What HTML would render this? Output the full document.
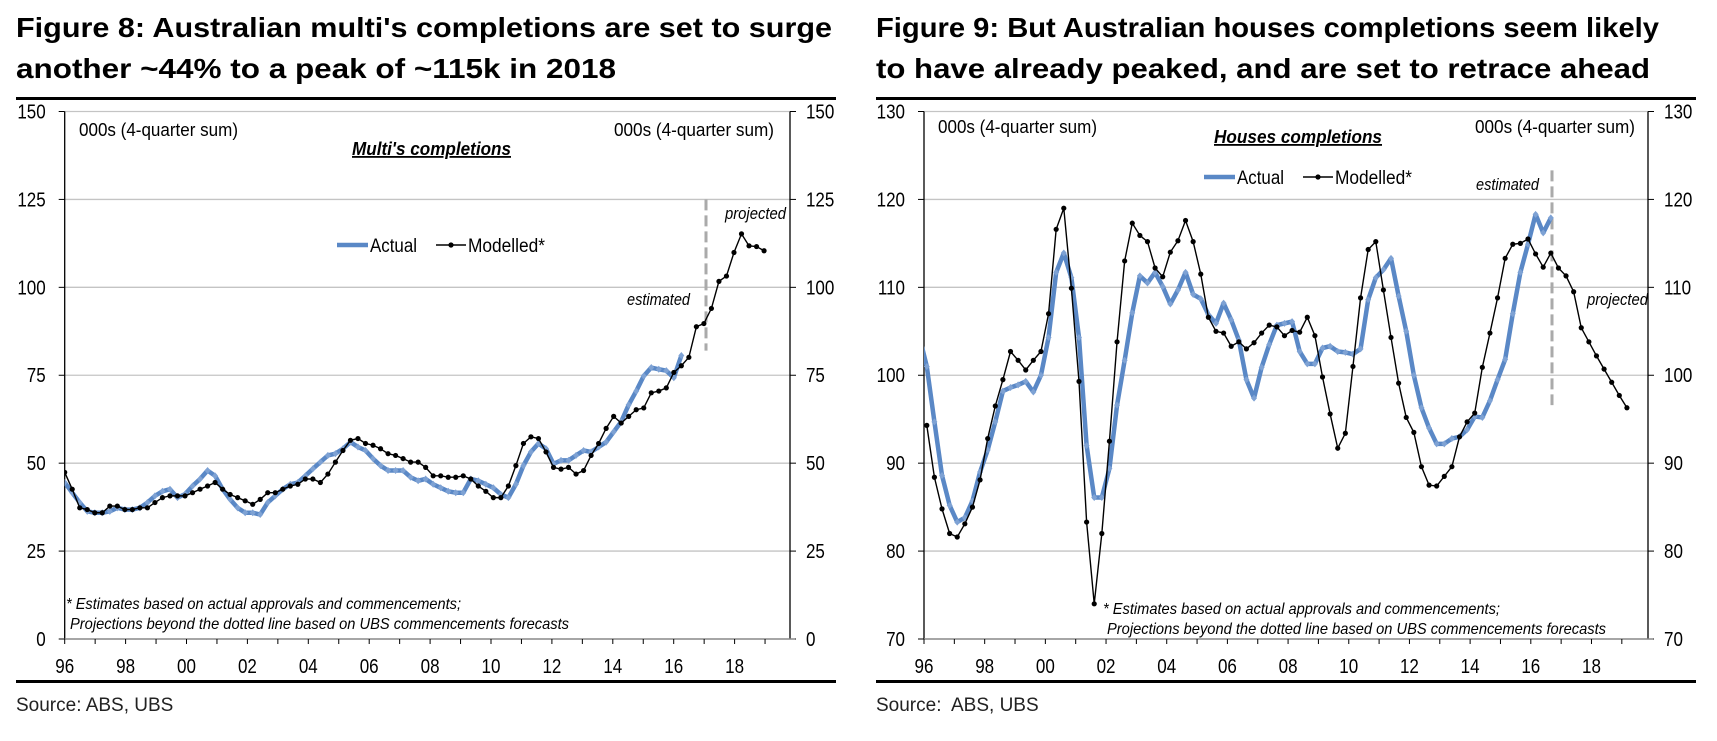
<!DOCTYPE html>
<html><head><meta charset="utf-8"><style>
html,body{margin:0;padding:0;background:#fff;}
svg{display:block;font-family:"Liberation Sans",Arial,sans-serif;}
</style></head><body>
<svg id="c" width="1717" height="741" viewBox="0 0 1717 741" xmlns="http://www.w3.org/2000/svg">
<g font-weight="bold" font-size="28" fill="#000">
<text x="16" y="37" textLength="816" lengthAdjust="spacingAndGlyphs">Figure 8: Australian multi's completions are set to surge</text>
<text x="16" y="78" textLength="600" lengthAdjust="spacingAndGlyphs">another ~44% to a peak of ~115k in 2018</text>
</g>
<g font-weight="bold" font-size="28" fill="#000">
<text x="876" y="37" textLength="783" lengthAdjust="spacingAndGlyphs">Figure 9: But Australian houses completions seem likely</text>
<text x="876" y="78" textLength="774" lengthAdjust="spacingAndGlyphs">to have already peaked, and are set to retrace ahead</text>
</g>
<rect x="16" y="97" width="820" height="3" fill="#000"/>
<rect x="876" y="97" width="820" height="3" fill="#000"/>
<rect x="16" y="680" width="820" height="3" fill="#000"/>
<rect x="876" y="680" width="820" height="3" fill="#000"/>
<text x="16" y="711" font-size="19" fill="#222">Source: ABS, UBS</text>
<text x="876" y="711" font-size="19" fill="#222" xml:space="preserve">Source:  ABS, UBS</text>
</svg>
<script>
// ---- Figure 8: multi's completions (000s) ----
const multiActual = [44.5,41.6,38.8,36.3,35.9,35.9,36.3,37.3,36.8,36.8,37.3,38.8,40.7,42.0,42.6,40.2,41.2,43.5,45.5,47.9,46.4,42.6,39.7,37.3,35.9,35.9,35.4,38.8,40.7,42.6,44.0,44.5,46.4,48.4,50.3,52.2,52.7,54.1,56.0,54.6,53.6,51.3,49.3,47.9,47.9,47.9,46.0,45.0,45.5,44.0,43.0,42.0,41.6,41.6,45.5,45.0,44.0,43.0,41.1,40.2,44.0,49.3,53.2,55.6,54.1,49.8,50.8,50.8,52.2,53.6,53.2,54.6,56.0,58.9,61.8,66.6,70.5,74.8,77.2,76.7,76.3,74.3,80.6];
const multiModelled = [47.4,42.6,37.3,36.8,35.9,35.9,37.8,37.8,36.8,36.8,37.3,37.3,38.8,40.2,40.7,40.7,40.7,41.6,42.6,43.5,44.5,42.6,41.1,40.2,39.3,38.3,39.7,41.6,41.6,42.6,43.5,44.0,45.5,45.5,44.5,46.9,50.3,53.6,56.5,57.0,55.6,55.1,54.1,52.7,52.2,51.3,50.3,50.3,48.8,46.4,46.4,46.0,46.0,46.4,45.5,43.5,42.0,40.2,40.2,43.5,49.3,55.6,57.5,57.0,53.2,48.8,48.3,48.8,46.9,47.9,52.2,55.6,59.9,63.3,61.4,63.3,65.2,65.7,70.0,70.5,71.4,75.8,77.7,80.1,88.8,89.7,94.0,101.7,103.2,109.9,115.2,111.8,111.6,110.4];
const multiTicks = [0,25,50,75,100,125,150];
// ---- Figure 9: houses completions (000s) ----
const housesActual = [104.5,101,94.7,88.6,85.2,83.3,83.8,85.7,89,91.5,94.7,98.2,98.6,98.9,99.3,98.1,100,104.3,111.7,113.9,111.1,104.3,92,86.1,86.1,89.4,96.6,101.7,107.1,111.3,110.5,111.7,110.1,108.1,109.7,111.7,109.2,108.7,106.9,105.9,108.2,106.3,104,99.5,97.4,100.9,103.5,105.7,105.9,106.1,102.7,101.3,101.3,103.1,103.3,102.7,102.6,102.4,103,108.6,111.1,112,113.3,109,105,100,96.3,94,92.2,92.2,92.8,93,93.8,95.3,95.2,97.1,99.5,101.8,107,111.7,114.9,118.3,116.2,117.9];
const housesModelled = [94.3,88.4,84.8,82.0,81.6,83.1,85.0,88.1,92.8,96.5,99.5,102.7,101.7,100.6,101.7,102.7,107.0,116.6,119.0,109.9,99.3,83.3,74.0,82.0,92.5,103.8,113.0,117.3,115.9,115.2,112.2,111.2,114.0,115.3,117.6,115.2,111.5,106.6,105.0,104.8,103.3,103.8,103.0,103.7,104.8,105.7,105.5,104.5,105.1,104.9,106.6,104.5,99.8,95.6,91.7,93.4,101.0,108.8,114.3,115.2,109.7,104.3,99.1,95.2,93.5,89.6,87.5,87.4,88.5,89.6,93.0,94.7,95.7,100.9,104.8,108.8,113.3,114.9,115.0,115.5,113.8,112.3,113.9,112.2,111.3,109.5,105.4,103.8,102.2,100.7,99.2,97.7,96.3];
const housesTicks = [70,80,90,100,110,120,130];
const yearLabels = ["96","98","00","02","04","06","08","10","12","14","16","18"];

const NS="http://www.w3.org/2000/svg";
const svg=document.getElementById('c');
function el(tag,attrs,parent){const e=document.createElementNS(NS,tag);for(const k in attrs)e.setAttribute(k,attrs[k]);(parent||svg).appendChild(e);return e;}

function chart(cfg){
  const g=el('g',{});
  
  
  const L=cfg.left,R=cfg.right,T=111.5,B=639;
  const y=v=>B-(v-cfg.min)/(cfg.max-cfg.min)*(B-T);
  const xq=(i,off)=>L+cfg.x0+(i+off)*cfg.step;
  const xy=yr=>L+(yr-1996)*cfg.yearPx;
  const clipId='clip'+cfg.name;
  const cp=el('clipPath',{id:clipId},g);el('rect',{x:L,y:T-5,width:R-L,height:B-T+10},cp);
  // gridlines + labels
  cfg.ticks.forEach(t=>{
    const yy=y(t);
    if(t!==cfg.min){const gl=el('line',{x1:L,x2:R,y1:yy,y2:yy,stroke:'#c4c4c4','stroke-width':1.3},g);
      
      }
    el('line',{x1:L-6,x2:L,y1:yy,y2:yy,stroke:'#000','stroke-width':1},g);
    el('line',{x1:R,x2:R+6,y1:yy,y2:yy,stroke:'#000','stroke-width':1},g);
    const lt=el('text',{x:L-19,y:yy+7,'font-size':20,'text-anchor':'end',fill:'#000',transform:`translate(${L-19},0) scale(0.85,1) translate(${-(L-19)},0)`},g);
    lt.textContent=t;
    
    
    const rt=el('text',{x:R+16,y:yy+7,'font-size':20,fill:'#000',transform:`translate(${R+16},0) scale(0.85,1) translate(${-(R+16)},0)`},g);
    rt.textContent=t;
    
    
  });
  // axes
  const ax=el('line',{x1:L,x2:L,y1:T,y2:B,stroke:'#000','stroke-width':1.3},g);
  
  const ax2=el('line',{x1:R,x2:R,y1:T,y2:B,stroke:'#000','stroke-width':1.3},g);
  
  const xa=el('line',{x1:L,x2:R+5,y1:B,y2:B,stroke:'#888','stroke-width':1.5},g);
  
  for(let yr=1996;yr<=2019;yr++){el('line',{x1:xy(yr),x2:xy(yr),y1:B,y2:B+5,stroke:'#000','stroke-width':1},g);}
  yearLabels.forEach((lab,k)=>{
    const xx=xy(1996+2*k);
    const t=el('text',{x:xx,y:673,'font-size':20,'text-anchor':'middle',fill:'#000',transform:`translate(${xx},0) scale(0.85,1) translate(${-xx},0)`},g);
    t.textContent=lab;
    
    
  });
  // dashed divider
  const dv=el('line',{x1:cfg.dash[0],x2:cfg.dash[0],y1:y(cfg.dash[1]),y2:y(cfg.dash[2]),stroke:'#aaa','stroke-width':3,'stroke-dasharray':'11,5'},g);
  
  // series
  const sg=el('g',{'clip-path':`url(#${clipId})`},g);
  const pa=cfg.actual.map((v,i)=>[xq(i,cfg.aOff),y(v)]);
  const ap=el('polyline',{points:pa.map(p=>p.join(',')).join(' '),fill:'none',stroke:'#5a88c6','stroke-width':4.5,'stroke-linejoin':'round'},sg);
  
  pa.forEach(p=>{const d=el('path',{d:`M${p[0]},${p[1]-3.5}l3,3.5l-3,3.5l-3,-3.5z`,fill:'#7ea2d4'},sg);
    });
  const pm=cfg.modelled.map((v,i)=>[xq(i,0),y(v)]);
  const mp=el('polyline',{points:pm.map(p=>p.join(',')).join(' '),fill:'none',stroke:'#000','stroke-width':1.4},sg);
  
  pm.forEach(p=>{const d=el('circle',{cx:p[0],cy:p[1],r:2.6,fill:'#000'},sg);
    });
  // texts
  const tx=(s,x,yy,a)=>{const t=el('text',Object.assign({x:x,y:yy,'font-size':18,fill:'#000'},a||{}),g);t.textContent=s;return t;};
  let t;
  t=tx('000s (4-quarter sum)',cfg.unitL,cfg.unitY,{textLength:159,lengthAdjust:'spacingAndGlyphs'});
  t=tx('000s (4-quarter sum)',cfg.unitR,cfg.unitY,{textLength:160,lengthAdjust:'spacingAndGlyphs'});
  t=tx(cfg.sub,cfg.subX[0],cfg.subY,{'font-weight':'bold','font-style':'italic','text-decoration':'underline',textLength:cfg.subX[1]-cfg.subX[0],lengthAdjust:'spacingAndGlyphs'});
  
  const lg=cfg.leg;
  const lgg=el('g',{},g);
  el('line',{x1:lg[0],x2:lg[0]+31,y1:lg[1],y2:lg[1],stroke:'#5a88c6','stroke-width':4.5},lgg);
  const la=el('text',{x:lg[0]+33,y:lg[1]+7,'font-size':19,textLength:47,lengthAdjust:'spacingAndGlyphs'},lgg);la.textContent='Actual';
  
  el('line',{x1:lg[0]+99,x2:lg[0]+129,y1:lg[1],y2:lg[1],stroke:'#000','stroke-width':1.4},lgg);
  el('circle',{cx:lg[0]+114,cy:lg[1],r:2.6},lgg);
  const lm=el('text',{x:lg[0]+131,y:lg[1]+7,'font-size':19,textLength:77,lengthAdjust:'spacingAndGlyphs'},lgg);lm.textContent='Modelled*';
  
  t=tx('estimated',cfg.est[0],cfg.est[1],{'font-style':'italic','font-size':17,textLength:63,lengthAdjust:'spacingAndGlyphs'});
  t=tx('projected',cfg.proj[0],cfg.proj[1],{'font-style':'italic','font-size':17,textLength:61,lengthAdjust:'spacingAndGlyphs'});
  t=tx('* Estimates based on actual approvals and commencements;',cfg.fn[0],cfg.fn[1],{'font-style':'italic','font-size':16,textLength:cfg.fn[2],lengthAdjust:'spacingAndGlyphs'});
  t=tx('Projections beyond the dotted line based on UBS commencements forecasts',cfg.fn[3],cfg.fn[1]+20,{'font-style':'italic','font-size':16,textLength:cfg.fn[4],lengthAdjust:'spacingAndGlyphs'});
}

chart({name:'multis-chart',left:64.7,right:790,min:0,max:150,ticks:multiTicks,x0:0,step:7.52,aOff:0,yearPx:30.45,
  actual:multiActual,modelled:multiModelled,dash:[706,125,82],
  unitL:79,unitR:614,unitY:136,sub:"Multi's completions",subX:[352,511],subY:155,
  leg:[337,245],est:[627,305],proj:[725,219],fn:[66,609,395,70,499]});
chart({name:'houses-chart',left:924,right:1648,min:70,max:130,ticks:housesTicks,x0:2.8,step:7.61,aOff:-1,yearPx:30.34,
  actual:housesActual,modelled:housesModelled,dash:[1552,123.3,96.6],
  unitL:938,unitR:1475,unitY:133,sub:"Houses completions",subX:[1214,1382],subY:143,
  leg:[1204,177],est:[1476,190],proj:[1587,305],fn:[1103,614,397,1107,499]});
</script>
</body></html>
